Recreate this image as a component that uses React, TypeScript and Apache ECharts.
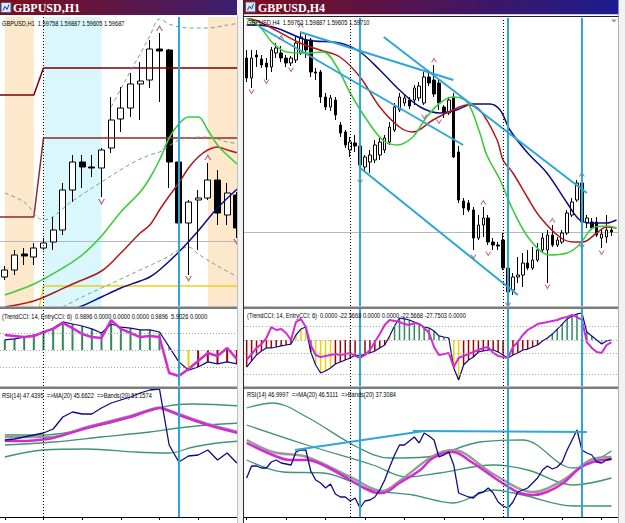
import React, { useEffect, useRef } from 'react';
import * as echarts from 'echarts';

// ================= H1 window (left) =================
// candles: [open, close, low, high]
const h1Candles: number[][] = [
  [1.59535, 1.5957, 1.5952, 1.5959], [1.5957, 1.59645, 1.59545, 1.5967], [1.5965, 1.5964, 1.59595, 1.5968],
  [1.59635, 1.5968, 1.59595, 1.59705], [1.5968, 1.59705, 1.5967, 1.5973], [1.5971, 1.5977, 1.5967, 1.59835],
  [1.5977, 1.5997, 1.59745, 1.60005], [1.5997, 1.6011, 1.5991, 1.60145], [1.6011, 1.60085, 1.5998, 1.60145],
  [1.60085, 1.6008, 1.60035, 1.60145], [1.6008, 1.6017, 1.59935, 1.6018], [1.6018, 1.6032, 1.60155, 1.60435],
  [1.60325, 1.6038, 1.6026, 1.60485], [1.6038, 1.605, 1.60335, 1.60555], [1.605, 1.60515, 1.6032, 1.6061],
  [1.6052, 1.60675, 1.6048, 1.6072], [1.60675, 1.60665, 1.6041, 1.60755], [1.6067, 1.6011, 1.5998, 1.60675],
  [1.6011, 1.59805, 1.59795, 1.6012], [1.59805, 1.5991, 1.59545, 1.5992], [1.5992, 1.5993, 1.5967, 1.5997],
  [1.5993, 1.6002, 1.5992, 1.60105], [1.6002, 1.59855, 1.59795, 1.6007], [1.59845, 1.59955, 1.59795, 1.60005],
  [1.59945, 1.5978, 1.5973, 1.5996],
];
const h1Bars = h1Candles.map((_, i) => `H1 bar ${i + 1}`);
// moving averages [bar, price]
const h1MaFast = [[0, 1.59445], [3, 1.595], [6, 1.5958], [8, 1.59645], [10, 1.5974], [12, 1.5986], [14, 1.5996], [15, 1.6003], [16, 1.6012], [17, 1.6023], [18, 1.603], [19, 1.60335], [20, 1.60335], [21, 1.6027], [22, 1.60195], [23, 1.60145], [24.5, 1.6008]];
const h1MaMid = [[0, 1.59385], [3, 1.59415], [5, 1.59455], [7, 1.595], [10, 1.59565], [12, 1.59655], [14, 1.59755], [15, 1.59795], [16, 1.5987], [17, 1.5994], [18, 1.60005], [19, 1.6008], [20, 1.60135], [21, 1.6017], [22, 1.60185], [23, 1.6017], [24.5, 1.6015]];
const h1MaSlow = [[0, 1.5927], [4, 1.59325], [6, 1.59355], [8, 1.5939], [10, 1.59435], [12, 1.5948], [14, 1.59515], [15, 1.59535], [16, 1.5957], [18, 1.5966], [20, 1.59765], [22, 1.5988], [24.5, 1.59995]];
// dashed envelope lines
const h1BandUp = [[11, 1.60385], [12, 1.60475], [13, 1.60565], [14, 1.6065], [15, 1.6074], [16, 1.60825], [17, 1.608], [18, 1.60785], [19, 1.6078], [20, 1.6078], [21, 1.6078], [22, 1.60785], [23, 1.60795], [24.5, 1.60805]];
const h1BandMid = [[0, 1.59955], [2, 1.5991], [4, 1.5982], [7, 1.59915], [10, 1.6001], [13, 1.601], [15, 1.60145], [16, 1.6016], [17, 1.6019], [18, 1.6022], [19, 1.6023], [20.5, 1.60235], [22, 1.60225], [23, 1.6021], [24.5, 1.602]];
const h1BandLow = [[6, 1.59385], [8, 1.59435], [10, 1.5948], [12, 1.59525], [14, 1.5957], [16, 1.59615], [17, 1.5964], [18, 1.5967], [19, 1.59685], [20, 1.5965], [22, 1.5959], [24.5, 1.59525]];
// day levels
const h1LevelTop = [[-0.5, 1.60445], [3, 1.60445], [4, 1.6058], [24.5, 1.6058]];
const h1LevelMid = [[-0.5, 1.59835], [3, 1.59835], [4, 1.6023], [24.5, 1.6023]];
const h1LevelLow = [[3, 1.5925], [4, 1.5949], [24.5, 1.5949]];
const h1Bid = 1.59715;
const h1FractalUp = [[16, 1.6078], [21, 1.60135]];
const h1FractalDown = [[10, 1.5991], [19, 1.59525], [24, 1.5971]];
const h1Dotted = [4];
const h1Cyan = [18];
// CCI
const h1TrendCci = [60, 65, 76, 88, 100, 129, 165, 153, 141, 124, 100, 153, 135, 129, 118, 118, 106, 18, -70, -118, -100, -70, -82, -70, -82];
const h1EntryCci = [88, 82, 76, 82, 106, 124, 159, 129, 94, 76, 71, 176, 124, 100, 76, 82, 76, -135, -153, -112, -65, -18, -35, 12, -53];
const h1CciState = 'gggggggggggggggggnyyrrrrr';
// RSI
const h1Rsi = [57, 57.5, 58.5, 59.5, 60.5, 62.5, 68.5, 71, 70, 70, 73, 75.5, 77, 78.5, 80.5, 82, 82.5, 54.5, 46, 49, 49.5, 52, 47, 50.5, 45.5];
const h1RsiMa = [[0, 56.5], [2, 56.5], [5, 58], [8.5, 63], [13, 68.5], [16, 73], [18, 69.5], [21, 64.5], [24.5, 60]];
const h1RsiMid = [[0, 58.5], [5, 58.5], [8.5, 63.5], [13, 69], [16, 73.2], [18, 70], [21, 65], [24.5, 60.5]];
const h1RsiBandA = [[0, 59.5], [4, 59.5], [10, 64.5], [13, 68.5], [16, 73], [17.5, 74.5], [19.5, 75], [24.5, 74]];
const h1RsiBandB = [[0, 54.5], [5, 56], [10, 58.5], [15, 61], [18, 63], [21, 64.5], [24.5, 65.5]];
const h1RsiBandC = [[0, 48.5], [4, 52], [8.5, 52.5], [13.5, 51], [17, 50.5], [19.5, 53.5], [22, 55.5], [24.5, 56.5]];

// ================= H4 window (right) =================
const h4Candles: number[][] = [
  [1.6145, 1.6125, 1.6121, 1.6153], [1.6125, 1.6145, 1.6115, 1.6153], [1.6148, 1.6146, 1.6136, 1.6153], [1.6144, 1.6138, 1.6135, 1.6148],
  [1.614, 1.6136, 1.6123, 1.6145], [1.6136, 1.6153, 1.6131, 1.6156], [1.615, 1.6155, 1.6145, 1.616], [1.615, 1.6145, 1.6141, 1.6157],
  [1.6145, 1.614, 1.6136, 1.6148], [1.614, 1.6145, 1.6137, 1.6147], [1.6143, 1.616, 1.614, 1.6166], [1.615, 1.6166, 1.6148, 1.6171],
  [1.6163, 1.6153, 1.6145, 1.617], [1.6163, 1.6131, 1.6126, 1.6165], [1.6131, 1.613, 1.6123, 1.6135], [1.6131, 1.6106, 1.61, 1.6133],
  [1.6106, 1.6096, 1.6093, 1.611], [1.6096, 1.6105, 1.6092, 1.6108], [1.6103, 1.6088, 1.6083, 1.6106], [1.6078, 1.607, 1.6066, 1.6081],
  [1.6071, 1.6058, 1.6055, 1.6073], [1.6053, 1.6061, 1.6046, 1.6066], [1.606, 1.6057, 1.6051, 1.6068], [1.6057, 1.6038, 1.6031, 1.606],
  [1.6036, 1.6046, 1.6031, 1.6048], [1.6041, 1.6048, 1.603, 1.6053], [1.6043, 1.6058, 1.604, 1.6063], [1.6048, 1.6061, 1.6043, 1.6065],
  [1.6053, 1.6065, 1.605, 1.6068], [1.6061, 1.6076, 1.6058, 1.6081], [1.6073, 1.6096, 1.6071, 1.61], [1.6093, 1.6106, 1.6091, 1.611],
  [1.61, 1.6105, 1.6097, 1.6108], [1.6103, 1.6097, 1.6094, 1.6106], [1.6103, 1.6115, 1.6098, 1.6118], [1.6105, 1.6117, 1.6102, 1.6121],
  [1.61, 1.6126, 1.6098, 1.6131], [1.6126, 1.612, 1.6117, 1.6133], [1.6123, 1.6109, 1.6106, 1.6138], [1.612, 1.61, 1.6093, 1.6123],
  [1.6096, 1.6091, 1.6085, 1.6098], [1.609, 1.6103, 1.6088, 1.6106], [1.6106, 1.6046, 1.6045, 1.611], [1.6051, 1.6003, 1.6, 1.6057],
  [1.6002, 1.5995, 1.5988, 1.6005], [1.6, 1.5993, 1.5991, 1.6003], [1.5993, 1.5965, 1.5953, 1.5996], [1.5965, 1.5978, 1.5963, 1.5988],
  [1.5978, 1.5985, 1.5966, 1.5996], [1.5985, 1.5961, 1.5958, 1.5988], [1.5961, 1.5958, 1.5953, 1.5965], [1.5958, 1.5957, 1.5953, 1.5961],
  [1.5963, 1.5935, 1.5933, 1.597], [1.5935, 1.5911, 1.5905, 1.5937], [1.5913, 1.5926, 1.5908, 1.593], [1.5926, 1.5928, 1.592, 1.5946],
  [1.5928, 1.594, 1.5916, 1.595], [1.594, 1.5935, 1.5933, 1.5953], [1.5935, 1.5943, 1.5933, 1.5956], [1.5943, 1.5953, 1.5941, 1.596],
  [1.5953, 1.5965, 1.5951, 1.597], [1.5953, 1.5968, 1.592, 1.5973], [1.5968, 1.5958, 1.5956, 1.5978], [1.5958, 1.5963, 1.5956, 1.5966],
  [1.5961, 1.597, 1.5959, 1.5973], [1.597, 1.599, 1.5968, 1.5993], [1.5988, 1.6001, 1.5986, 1.6005], [1.6003, 1.602, 1.6001, 1.6023],
  [1.602, 1.5981, 1.5979, 1.6023], [1.598, 1.5985, 1.5975, 1.5988], [1.5981, 1.5975, 1.5973, 1.5985], [1.5981, 1.5968, 1.5966, 1.5986],
  [1.5965, 1.5969, 1.5955, 1.5973], [1.5966, 1.5973, 1.596, 1.5988], [1.5973, 1.5971, 1.5967, 1.5977],
];
const h4Bars = [...h4Candles.map((_, i) => `H4 bar ${i + 1}`), 'H4 next'];
const h4MaSlow = [[0, 1.6178], [5.3, 1.6176], [12.2, 1.6163], [18.9, 1.616], [23, 1.6151], [27, 1.6133], [31, 1.6113], [35.2, 1.6096], [39.2, 1.609], [42.6, 1.6093], [45.8, 1.6099], [49.3, 1.6099], [51.4, 1.6093], [53.4, 1.6073], [57, 1.605], [60.9, 1.603], [65, 1.6], [67.6, 1.5983], [70.2, 1.598], [73, 1.598], [75, 1.5983]];
const h4MaMid = [[0, 1.6185], [2.7, 1.6181], [10.8, 1.616], [14.9, 1.6153], [18.9, 1.6146], [23, 1.6126], [27, 1.6096], [31, 1.6076], [33.7, 1.6071], [37.8, 1.6083], [41.8, 1.6093], [44.7, 1.6098], [47.3, 1.6093], [50.8, 1.6063], [52, 1.6043], [54, 1.603], [56.9, 1.6006], [59.5, 1.5986], [63.5, 1.5966], [66.2, 1.5961], [68.2, 1.5961], [71, 1.597], [73, 1.5976], [75, 1.5975]];
const h4MaFast = [[0, 1.6185], [2.7, 1.6176], [5.3, 1.616], [8.2, 1.6151], [12.2, 1.615], [15.5, 1.6151], [18.3, 1.6136], [21, 1.611], [24.4, 1.6083], [27.6, 1.6063], [30.5, 1.6058], [33.7, 1.6066], [36.5, 1.6086], [39.2, 1.61], [41.8, 1.6106], [44.7, 1.6101], [47.3, 1.607], [48.7, 1.6048], [51.4, 1.6023], [54, 1.5993], [57.5, 1.5963], [61.5, 1.5948], [65, 1.595], [67, 1.5956], [68.2, 1.5963], [70.2, 1.5975], [73, 1.5977], [75, 1.5975]];
const h4TrendLines = [
  [[10.8, 1.6171], [41.9, 1.6123]],
  [[2.7, 1.6176], [43.9, 1.6058]],
  [[27.8, 1.6166], [69, 1.601]],
  [[22.8, 1.6036], [55, 1.5908]],
];
const h4Bid = 1.5971;
const h4FractalUp = [[7, 1.6166], [11, 1.6178], [38, 1.6143], [48, 1.6001], [62, 1.5983], [68, 1.6029]];
const h4FractalDown = [[1, 1.6111], [4, 1.6121], [9, 1.6133], [23, 1.6021], [36, 1.6086], [39, 1.6081], [46, 1.5946], [49, 1.5949], [53, 1.5898], [61, 1.5916], [68, 1.5956], [72, 1.595]];
const h4Dotted = [21, 52];
const h4Cyan = [23, 53, 68];
const h4TrendCci = [-200, -155, -111, -81, -59, -59, -52, -44, -37, -30, 37, 81, 96, -89, -185, -244, -230, -207, -178, -163, -148, -133, -111, -118, -104, -96, -81, -59, -37, 30, 104, 163, 156, 148, 133, 118, 96, 89, 67, 30, 22, 15, -207, -296, -185, -148, -126, -89, -81, -74, -74, -89, -111, -133, -111, -96, -74, -67, -52, -37, -7, 15, 44, 81, 118, 156, 178, 193, 200, 59, 30, 0, -30, -7, 0];
const h4EntryCci = [-148, -104, -59, -30, 15, 96, 74, 81, 52, 0, 133, 156, 96, -37, -111, -126, -118, -111, -104, -111, -104, -96, -118, -133, -111, -74, -15, 44, 111, 148, 141, 133, 118, 111, 126, 118, 89, 52, -52, -111, -104, -96, -200, -133, -118, -104, -89, -74, -59, -52, -96, -118, -126, -133, -52, -15, 37, 74, 96, 118, 126, 133, 141, 148, 163, 170, 185, 170, 148, -15, -59, -89, -96, -37, -15];
const h4CciState = ['rrrrrrrrrr', 'yyy', 'r', 'yyyy', 'rrrrrrrrrrr', 'y', 'ggggggggggg', 'n', 'yy', 'rrrrrrrrrrrrrrrr', 'n', 'y', 'ggggggggg', 'nnnn'].join('');
const h4Rsi = [38, 44, 44, 43, 43, 46, 47, 45.5, 45, 44.5, 51, 52, 52, 41.5, 37, 35.5, 33, 35, 30, 28.5, 28.5, 26.5, 28, 23, 26.5, 27, 28.5, 32, 37, 43.5, 49.5, 54.5, 54.5, 56.5, 58.5, 55.5, 60.5, 59, 57, 48.5, 49.5, 51, 44.5, 30.5, 29.5, 28.5, 28, 30.5, 31, 33, 30.5, 26, 24, 23, 26, 31, 32, 33, 35.5, 38, 42, 44, 42.5, 43.5, 46, 52, 57, 62, 52, 50.5, 49.5, 46, 45.5, 47, 47.5];
const h4RsiMa = [[0, 55.5], [5.3, 49.5], [8.8, 47], [12.2, 47], [16.3, 43.5], [21, 37], [25.6, 31], [27.6, 30.5], [31, 35.5], [35.2, 42], [37.8, 48], [41.8, 51], [45.9, 45.5], [50, 38.5], [52.8, 34], [55.4, 30.5], [58.1, 29.5], [60.9, 31], [64.2, 35.5], [67.6, 43], [70.2, 46], [74, 47.5]];
const h4RsiMid = [[0, 57], [5.3, 51], [12.2, 48.5], [21, 38.5], [27.6, 31.5], [31, 36.5], [37.8, 49], [41.8, 52], [50, 40], [58.1, 31], [64.2, 37], [70.2, 47.5], [74, 48.5]];
const h4RsiBandU = [[0, 73], [5.3, 75.5], [12.2, 68.5], [22.4, 53.5], [29, 48], [36.5, 48.5], [47.3, 56], [56, 57], [66.2, 43], [74, 51.5]];
const h4RsiBandM = [[0, 64.5], [12.2, 54.5], [25.6, 44.5], [32.5, 38.5], [39.2, 40.5], [50, 44.5], [57, 42], [66.2, 34.5], [74, 38]];
const h4RsiBandL = [[0, 47], [7.4, 41], [15.5, 40.5], [25.6, 32], [33.7, 29.5], [41.8, 25.5], [50, 32], [56, 29.5], [66.2, 24], [74, 24]];
const h4RsiLines = [
  [[9.8, 52], [36, 61.5]],
  [[33.7, 61.5], [69, 61]],
];

// ================= texts =================
const titleH1 = 'GBPUSD,H1';
const titleH4 = 'GBPUSD,H4';
const infoH1 = 'GBPUSD,H1  1.59758 1.59887 1.59605 1.59687';
const infoH4 = 'GBPUSD,H4  1.59763 1.59887 1.59605 1.59710';
const cciInfoH1 = '(TrendCCI: 14, EntryCCI: 6)  0.9896 0.0000 0.0000 0.0000 0.9896  5.9026 0.0000';
const cciInfoH4 = '(TrendCCI: 14, EntryCCI: 6)  0.0000 -22.5668 0.0000 0.0000 -22.5668 -27.7503 0.0000';
const rsiInfoH1 = 'RSI(14) 47.4395  =>MA(20) 45.6622  =>Bands(20) 51.1574';
const rsiInfoH4 = 'RSI(14) 46.9997  =>MA(20) 46.5111  =>Bands(20) 37.3084';

// ================= styles =================
const CYAN = '#2ea6d6';
const NAVY = '#0c0c84';
const DKRED = '#b01818';
const GREEN = '#3ccc3c';
const MAGENTA = '#d42ad4';
const TEAL = '#3f9474';
const BANDGRAY = '#77a08e';
const FRAC = '#b0446e';
const PEACH = '#fde8cc';
const AQUA = '#d9f7fd';
const STATE_COLORS: Record<string, string> = { g: '#2e8b57', r: '#a00000', y: '#f0d000', n: '#a0a0a0' };
const SMALL_FONT = '7px "Liberation Sans", "DejaVu Sans", sans-serif';
const TITLE_FONT = 'bold 12px "Liberation Serif", "DejaVu Serif", serif';
const UP_ARROW = 'path://M0 10 L5 0 L10 10 L8 10 L5 4 L2 10 Z';
const DOWN_ARROW = 'path://M0 0 L5 10 L10 0 L8 0 L5 6 L2 0 Z';
const CANDLE_STYLE = { color: '#ffffff', color0: '#000000', borderColor: '#000000', borderColor0: '#000000', borderWidth: 1 };

const vMarks = (dotted: number[], cyan: number[], levels: number[] = []) => ({
  silent: true,
  symbol: ['none', 'none'],
  label: { show: false },
  precision: 6,
  z: 5,
  data: [
    ...levels.map((v) => ({ yAxis: v, lineStyle: { color: '#a8a08a', type: [1, 2], width: 1 } })),
    ...dotted.map((i) => ({ xAxis: i, lineStyle: { color: '#000000', type: [1, 2], width: 1 } })),
    ...cyan.map((i) => ({ xAxis: i, lineStyle: { color: CYAN, type: 'solid', width: 2 } })),
  ],
});

const vLine = (xi: number, yi: number, data: number[][], color: string, width: number, extra: any = {}) => ({
  type: 'line', xAxisIndex: xi, yAxisIndex: yi, data, symbol: 'none', smooth: 0.35, silent: true, z: 3,
  lineStyle: { color, width }, ...extra,
});

function buildOption() {
  const L = { left: -5.85, width: 247.5 };
  const R = { left: 244.2, width: 374.7 };
  const grid = [
    { ...L, top: 17, height: 289 },
    { ...L, top: 309, height: 77 },
    { ...L, top: 389, height: 128 },
    { ...R, top: 18, height: 288 },
    { ...R, top: 309, height: 77 },
    { ...R, top: 389, height: 128 },
  ];
  const yRanges = [
    [1.5939, 1.60835], [-211.8, 241.2], [18.5, 82.5],
    [1.5897, 1.6185], [-340.7, 229.6], [18.5, 82.5],
  ];
  const yAxis = yRanges.map(([min, max], g) => ({
    type: 'value', gridIndex: g, min, max, show: false, splitLine: { show: false },
  }));
  const xAxis: any[] = [];
  grid.forEach((_, g) => {
    const left = g < 3;
    const cats = left ? h1Bars : h4Bars;
    const isRsi = g === 2 || g === 5;
    xAxis.push({
      type: 'category', gridIndex: g, data: cats, boundaryGap: true,
      axisLine: { show: isRsi, lineStyle: { color: '#000000', width: 1 } },
      axisTick: { show: isRsi, interval: left ? 3 : 7, alignWithLabel: true, length: 3, lineStyle: { color: '#000000' } },
      axisLabel: { show: false }, splitLine: { show: false },
    });
    xAxis.push({ type: 'value', gridIndex: g, min: -0.5, max: cats.length - 0.5, show: false, splitLine: { show: false } });
  });

  const cciBars = (vals: number[], state: string) =>
    vals.map((v, i) => ({ value: v, itemStyle: { color: STATE_COLORS[state[i]] } }));

  const bidMark = (v: number) => ({
    silent: true, symbol: ['none', 'none'], label: { show: false }, z: 1, precision: 6,
    lineStyle: { color: '#b8b8b8', width: 1, type: 'solid' }, data: [{ yAxis: v }],
  });

  const series: any[] = [
    // ---------- H1 main ----------
    {
      type: 'candlestick', name: 'GBPUSD,H1', xAxisIndex: 0, yAxisIndex: 0, data: h1Candles, barWidth: 6.5,
      itemStyle: CANDLE_STYLE, z: 2,
      markArea: {
        silent: true, z: 1,
        data: [
          [{ xAxis: 0, itemStyle: { color: PEACH } }, { xAxis: 3 }],
          [{ xAxis: 4, itemStyle: { color: AQUA } }, { xAxis: 10 }],
          [{ xAxis: 21, itemStyle: { color: PEACH } }, { xAxis: 24 }],
        ],
      },
      markLine: vMarks(h1Dotted, h1Cyan),
    },
    vLine(1, 0, h1LevelTop, '#7a0000', 1.5, { smooth: false, markLine: bidMark(h1Bid) }),
    vLine(1, 0, h1LevelMid, '#8e2a2a', 1.5, { smooth: false }),
    vLine(1, 0, h1LevelLow, '#ecd020', 1.5, { smooth: false }),
    vLine(1, 0, h1BandUp, BANDGRAY, 1, { lineStyle: { color: BANDGRAY, width: 1, type: [4, 3] } }),
    vLine(1, 0, h1BandMid, BANDGRAY, 1, { lineStyle: { color: BANDGRAY, width: 1, type: [4, 3] } }),
    vLine(1, 0, h1BandLow, BANDGRAY, 1, { lineStyle: { color: BANDGRAY, width: 1, type: [4, 3] } }),
    vLine(1, 0, h1MaSlow, NAVY, 1.5),
    vLine(1, 0, h1MaMid, DKRED, 1.5),
    vLine(1, 0, h1MaFast, GREEN, 1.6),
    { type: 'scatter', xAxisIndex: 0, yAxisIndex: 0, data: h1FractalUp, symbol: UP_ARROW, symbolSize: [7, 6], itemStyle: { color: FRAC }, z: 4, silent: true },
    { type: 'scatter', xAxisIndex: 0, yAxisIndex: 0, data: h1FractalDown, symbol: DOWN_ARROW, symbolSize: [7, 6], itemStyle: { color: FRAC }, z: 4, silent: true },
    // ---------- H1 CCI ----------
    {
      type: 'bar', xAxisIndex: 2, yAxisIndex: 1, data: cciBars(h1TrendCci, h1CciState), barWidth: 2, silent: true, z: 2,
      markLine: vMarks(h1Dotted, h1Cyan, [100, 0, -100]),
    },
    { type: 'line', xAxisIndex: 2, yAxisIndex: 1, data: h1TrendCci, symbol: 'none', silent: true, z: 3, lineStyle: { color: NAVY, width: 1.2 } },
    { type: 'line', xAxisIndex: 2, yAxisIndex: 1, data: h1EntryCci, symbol: 'none', silent: true, z: 3, lineStyle: { color: MAGENTA, width: 2.5 } },
    // ---------- H1 RSI ----------
    vLine(5, 2, h1RsiBandA, TEAL, 1.3),
    vLine(5, 2, h1RsiBandB, TEAL, 1.3),
    vLine(5, 2, h1RsiBandC, TEAL, 1.3),
    vLine(5, 2, h1RsiMid, '#9a9a9a', 2.5, { smooth: 0.2 }),
    vLine(5, 2, h1RsiMa, MAGENTA, 2.5, { smooth: 0.2 }),
    {
      type: 'line', xAxisIndex: 4, yAxisIndex: 2, data: h1Rsi, symbol: 'none', silent: true, z: 3,
      lineStyle: { color: NAVY, width: 1.3 }, markLine: vMarks(h1Dotted, h1Cyan),
    },
    // ---------- H4 main ----------
    {
      type: 'candlestick', name: 'GBPUSD,H4', xAxisIndex: 6, yAxisIndex: 3, data: h4Candles, barWidth: 3,
      itemStyle: CANDLE_STYLE, z: 2, markLine: vMarks(h4Dotted, h4Cyan),
    },
    ...h4TrendLines.map((tl, k) =>
      vLine(7, 3, tl, CYAN, 2, { smooth: false, z: 4, ...(k === 0 ? { markLine: bidMark(h4Bid) } : {}) })),
    vLine(7, 3, h4MaSlow, NAVY, 1.5),
    vLine(7, 3, h4MaMid, DKRED, 1.5),
    vLine(7, 3, h4MaFast, GREEN, 1.6),
    { type: 'scatter', xAxisIndex: 6, yAxisIndex: 3, data: h4FractalUp, symbol: UP_ARROW, symbolSize: [6, 5], itemStyle: { color: FRAC }, z: 4, silent: true },
    { type: 'scatter', xAxisIndex: 6, yAxisIndex: 3, data: h4FractalDown, symbol: DOWN_ARROW, symbolSize: [6, 5], itemStyle: { color: FRAC }, z: 4, silent: true },
    // ---------- H4 CCI ----------
    {
      type: 'bar', xAxisIndex: 8, yAxisIndex: 4, data: cciBars(h4TrendCci, h4CciState), barWidth: 1.5, silent: true, z: 2,
      markLine: vMarks(h4Dotted, h4Cyan, [100, 0, -100, -250]),
    },
    { type: 'line', xAxisIndex: 8, yAxisIndex: 4, data: h4TrendCci, symbol: 'none', silent: true, z: 3, lineStyle: { color: NAVY, width: 1.2 } },
    { type: 'line', xAxisIndex: 8, yAxisIndex: 4, data: h4EntryCci, symbol: 'none', silent: true, z: 3, lineStyle: { color: MAGENTA, width: 2 } },
    // ---------- H4 RSI ----------
    vLine(11, 5, h4RsiBandU, TEAL, 1.3),
    vLine(11, 5, h4RsiBandM, TEAL, 1.3),
    vLine(11, 5, h4RsiBandL, TEAL, 1.3),
    vLine(11, 5, h4RsiMid, '#9a9a9a', 2.5),
    vLine(11, 5, h4RsiMa, MAGENTA, 2.5),
    ...h4RsiLines.map((tl) => vLine(11, 5, tl, CYAN, 2, { smooth: false, z: 4 })),
    {
      type: 'line', xAxisIndex: 10, yAxisIndex: 5, data: h4Rsi, symbol: 'none', silent: true, z: 3,
      lineStyle: { color: NAVY, width: 1.3 }, markLine: vMarks(h4Dotted, h4Cyan),
    },
  ];

  // ---------- window chrome ----------
  const rect = (x: number, y: number, w: number, h: number, fill: any, z = 100, stroke?: string) => ({
    type: 'rect', shape: { x, y, width: w, height: h }, style: { fill, stroke, lineWidth: stroke ? 1 : 0 }, z, silent: true,
  });
  const seg = (x1: number, y1: number, x2: number, y2: number, stroke: string, w = 1) => ({
    type: 'line', shape: { x1, y1, x2, y2 }, style: { stroke, lineWidth: w }, z: 101, silent: true,
  });
  const txt = (x: number, y: number, t: string, font: string, fill = '#000000', scaleX = 1) => ({
    type: 'text', x, y, scaleX, style: { text: t, font, fill, verticalAlign: 'middle', align: 'left' }, z: 102, silent: true,
  });
  const grad = (c1: string, c2: string) => ({
    type: 'linear', x: 0, y: 0, x2: 1, y2: 0, colorStops: [{ offset: 0, color: c1 }, { offset: 1, color: c2 }],
  });
  const icon = (x: number, y: number) => [
    rect(x, y, 10, 10, '#dce8f6', 103, '#4a5a8a'),
    { type: 'polyline', shape: { points: [[x + 2, y + 8], [x + 4, y + 4], [x + 6, y + 7], [x + 8, y + 2]] }, style: { stroke: '#1a3a9a', lineWidth: 1, fill: 'none' }, z: 104, silent: true },
  ];
  const SX = 0.81;

  const graphic = [
    rect(237, 0, 6, 523, '#f2f2f2'),
    rect(618.5, 0, 6.5, 523, '#f2f2f2'),
    seg(237.5, 15, 237.5, 523, '#c0c0c0'),
    seg(243.5, 0, 243.5, 523, '#2a2a2a'),
    seg(618.5, 14, 618.5, 523, '#b0b0b0'),
    rect(0, 0, 237, 15, grad('#7e0e1c', '#3d1f70')),
    rect(243, 0, 375.5, 14.5, grad('#7e0e1c', '#1b1c90')),
    rect(0, 15, 237, 2, '#ffffff'),
    rect(244, 14.5, 374.5, 3.5, '#ffffff'),
    seg(244, 16.5, 618.5, 16.5, '#202020'),
    rect(0, 306.5, 237, 2.5, '#7c7c7c'),
    rect(0, 386.5, 237, 2.5, '#7c7c7c'),
    rect(244, 306.5, 374.5, 2.5, '#7c7c7c'),
    rect(244, 386.5, 374.5, 2.5, '#7c7c7c'),
    { type: 'polygon', shape: { points: [[611, 19.5], [617, 19.5], [614, 22.5]] }, style: { fill: '#9a9a9a' }, z: 102, silent: true },
    ...icon(1, 2.5),
    ...icon(245.5, 2),
    txt(13, 8, titleH1, TITLE_FONT, '#ffffff'),
    txt(258, 7.5, titleH4, TITLE_FONT, '#ffffff'),
    txt(2, 23.5, infoH1, SMALL_FONT, '#000000', SX),
    txt(2, 316.5, cciInfoH1, SMALL_FONT, '#000000', SX),
    txt(2, 395, rsiInfoH1, SMALL_FONT, '#000000', SX),
    txt(247, 22.5, infoH4, SMALL_FONT, '#000000', SX),
    txt(247, 315, cciInfoH4, SMALL_FONT, '#000000', SX),
    txt(247, 394, rsiInfoH4, SMALL_FONT, '#000000', SX),
  ];

  return { animation: false, backgroundColor: '#ffffff', grid, xAxis, yAxis, series, graphic };
}

export default function App() {
  const ref = useRef<HTMLDivElement>(null);
  useEffect(() => {
    document.body.style.margin = '0';
    const chart = echarts.init(ref.current as HTMLDivElement, null, { renderer: 'svg' });
    chart.setOption(buildOption() as any);
    return () => chart.dispose();
  }, []);
  return <div ref={ref} style={{ position: 'absolute', left: 0, top: 0, width: 625, height: 523 }} />;
}
